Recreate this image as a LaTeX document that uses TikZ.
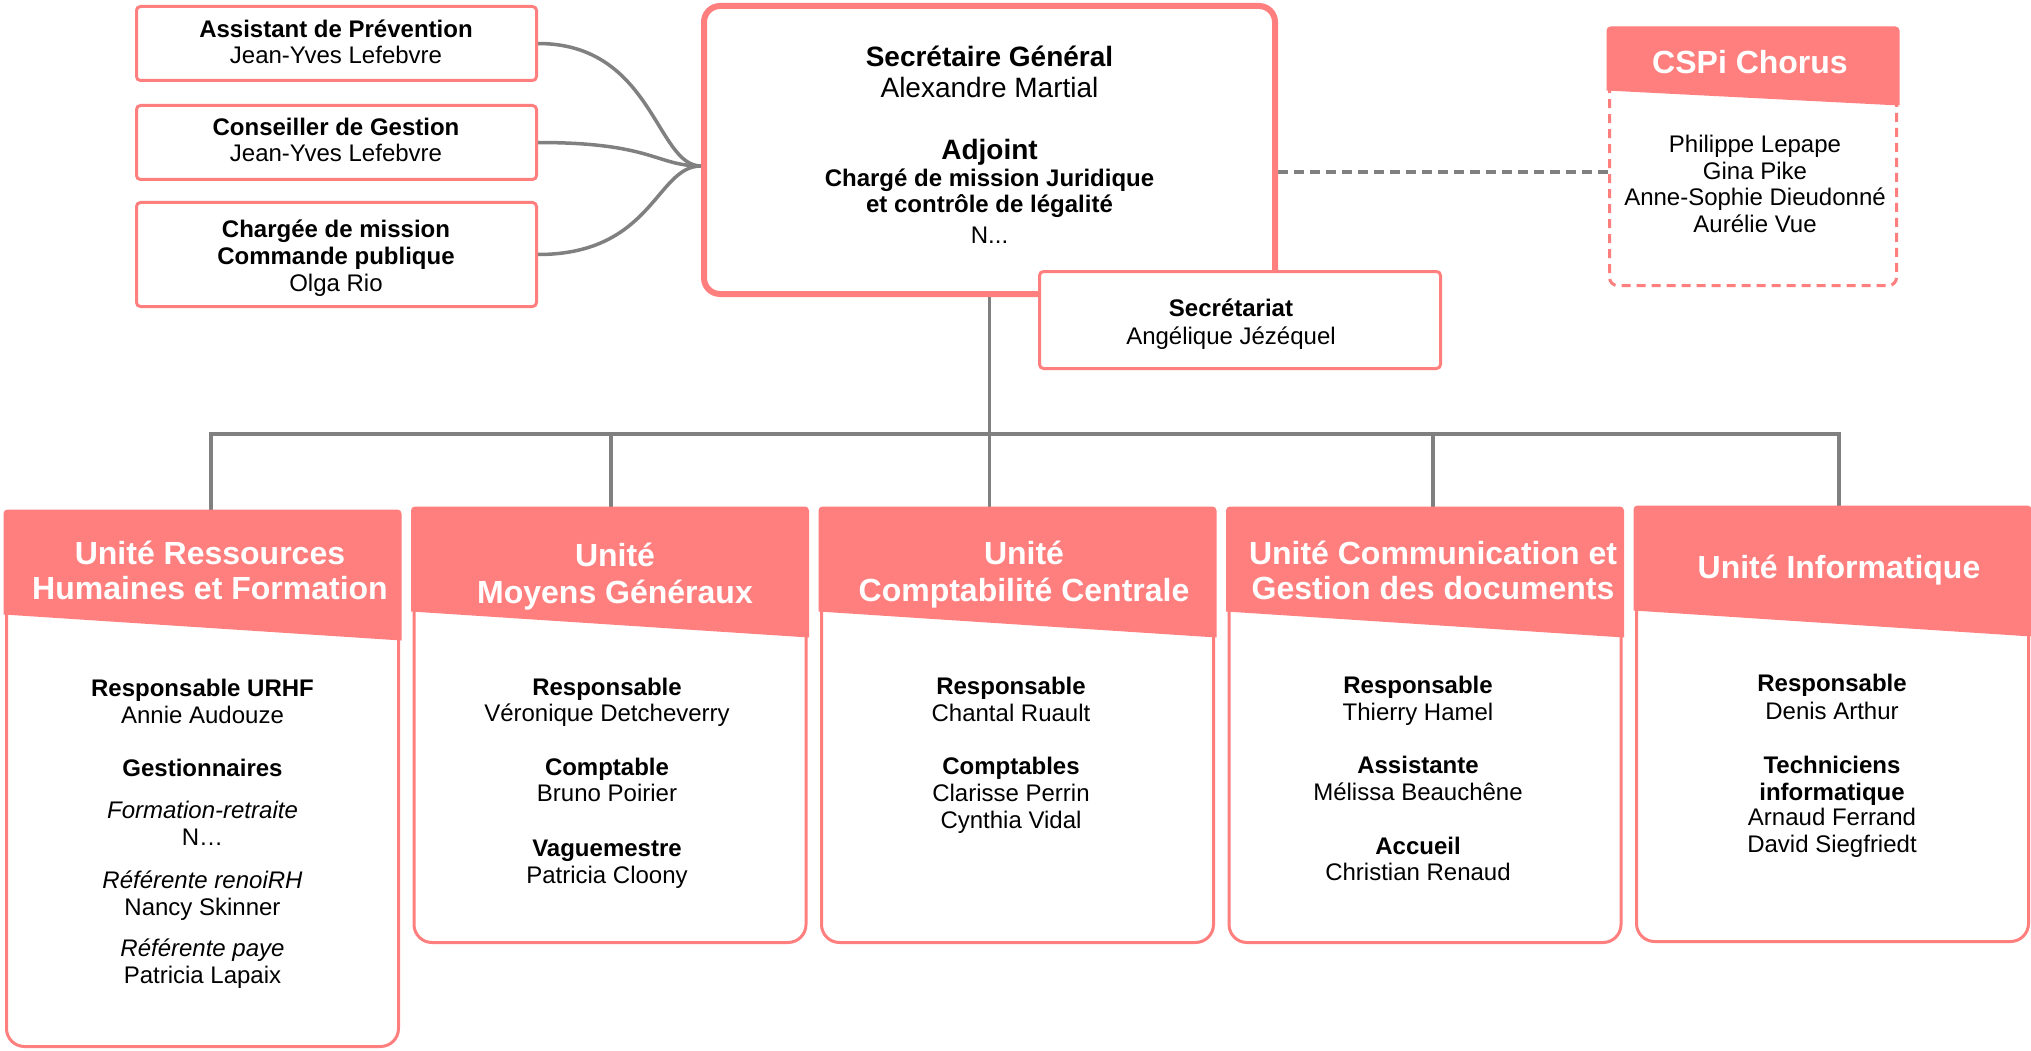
\documentclass[tikz,border=0pt]{standalone}
\usepackage{fontspec}
\setmainfont{Liberation Sans}
\definecolor{salmon}{RGB}{255,127,127}
\definecolor{linegrey}{RGB}{128,128,128}
\pgfdeclarelayer{bg}
\pgfdeclarelayer{conns}
\pgfsetlayers{bg,conns,main}
\tikzset{
  conn/.style={draw=linegrey, line width=3.5pt},
  dconn/.style={draw=linegrey, line width=3.5pt, dash pattern=on 10pt off 6pt},
  smallbox/.style={rectangle, draw=salmon, line width=3pt, rounded corners=4pt, fill=white, inner sep=0pt, minimum width=400pt},
  bigbox/.style={rectangle, draw=salmon, line width=6pt, rounded corners=16pt, fill=white, inner sep=0pt},
  dashbox/.style={rectangle, draw=salmon, line width=3pt, rounded corners=8pt, dash pattern=on 9pt off 6pt, fill=white, inner sep=0pt},
  unitbox/.style={rectangle, draw=salmon, line width=3pt, rounded corners=18pt, fill=white, inner sep=0pt, minimum width=392pt},
  hdr/.style={fill=salmon},
  tr/.style={anchor=base, inner sep=0pt, text=black, font=\fontsize{24}{27}\selectfont},
  tb/.style={tr, font=\fontsize{24}{27}\selectfont\bfseries},
  ti/.style={tr, font=\fontsize{24}{27}\selectfont\itshape},
  tl/.style={tr, font=\fontsize{28}{31}\selectfont},
  tlb/.style={tr, font=\fontsize{28}{31}\selectfont\bfseries},
  th/.style={anchor=base, inner sep=0pt, text=white, font=\fontsize{32}{36}\selectfont\bfseries},
}
\newcommand\unithdr[1]{%
  \fill[hdr] ([shift={(-1.5,50)}]#1.north west) [rounded corners=4pt] -- ([shift={(-1.5,-1.5)}]#1.north west)
    -- ([shift={(1.5,-1.5)}]#1.north east) -- ([shift={(1.5,50)}]#1.north east) [sharp corners]
    -- ([shift={(1.5,129.5)}]#1.north east) -- ([shift={(-1.5,103.5)}]#1.north west) -- cycle;}
\begin{document}
\begin{tikzpicture}[x=1pt, y=-1pt]
\useasboundingbox (0,0) rectangle (2031,1051);
\begin{pgfonlayer}{bg}
  \fill[white] (0,0) rectangle (2031,1051);
\end{pgfonlayer}

% top-left boxes
\node[smallbox, minimum height=74pt] (ap) at (336.5,43.5) {};
\node[smallbox, minimum height=74pt] (cg) at (336.5,142.5) {};
\node[smallbox, minimum height=104pt] (cm) at (336.5,254.5) {};
\node[tb] (apt1) at (336,38) {Assistant de Prévention};
\node[tr] (apt2) at (336,64) {Jean-Yves Lefebvre};
\node[tb] (cgt1) at (336,136) {Conseiller de Gestion};
\node[tr] (cgt2) at (336,162) {Jean-Yves Lefebvre};
\node[tb] (cmt1) at (336,237) {Chargée de mission};
\node[tb] (cmt2) at (336,264) {Commande publique};
\node[tr] (cmt3) at (336,291) {Olga Rio};

% central box
\node[bigbox, minimum width=571pt, minimum height=288pt] (sg) at (989.5,150) {};
\node[tlb] (sgt1) at (989.5,67) {Secrétaire Général};
\node[tl] (sgt2) at (989.5,98) {Alexandre Martial};
\node[tlb] (sgt3) at (989.5,160) {Adjoint};
\node[tb] (sgt4) at (989.5,187) {Chargé de mission Juridique};
\node[tb] (sgt5) at (989.5,213) {et contrôle de légalité};
\node[tr] (sgt6) at (989.5,243) {N...};

% secretariat
\node[smallbox, minimum width=401pt, minimum height=97pt] (sec) at (1240,320) {};
\node[tb] (sect1) at (1231,316) {Secrétariat};
\node[tr] (sect2) at (1231,344) {Angélique Jézéquel};

% CSPi Chorus
\node[dashbox, minimum width=287pt, minimum height=256pt] (cspi) at (1753,157.5) {};
\fill[hdr] ([shift={(-1.5,40)}]cspi.north west) [rounded corners=4pt] -- ([shift={(-1.5,-1.5)}]cspi.north west)
  -- ([shift={(1.5,-1.5)}]cspi.north east) -- ([shift={(1.5,40)}]cspi.north east) [sharp corners]
  -- ([shift={(1.5,77.5)}]cspi.north east) -- ([shift={(-1.5,62.5)}]cspi.north west) -- cycle;
\node[th] (cspit) at (1750,74) {CSPi Chorus};
\node[tr] (cspi1) at (1755,153) {Philippe Lepape};
\node[tr] (cspi2) at (1755,180) {Gina Pike};
\node[tr] (cspi3) at (1755,206) {Anne-Sophie Dieudonné};
\node[tr] (cspi4) at (1755,233) {Aurélie Vue};

% units
\node[unitbox, minimum height=534pt] (u1) at (202.5,779.5) {};
\node[unitbox, minimum height=433pt] (u2) at (610,726) {};
\node[unitbox, minimum height=433pt] (u3) at (1017.5,726) {};
\node[unitbox, minimum height=433pt] (u4) at (1425,726) {};
\node[unitbox, minimum height=433pt] (u5) at (1832.5,725) {};
\unithdr{u1}\unithdr{u2}\unithdr{u3}\unithdr{u4}\unithdr{u5}

\node[th] (u1h1) at (210,564) {Unité Ressources};
\node[th] (u1h2) at (210,599) {Humaines et Formation};
\node[th] (u2h1) at (615,566) {Unité};
\node[th] (u2h2) at (615,603) {Moyens Généraux};
\node[th] (u3h1) at (1024,564) {Unité};
\node[th] (u3h2) at (1024,601) {Comptabilité Centrale};
\node[th] (u4h1) at (1433,564) {Unité Communication et};
\node[th] (u4h2) at (1433,599) {Gestion des documents};
\node[th] (u5h1) at (1839,578) {Unité Informatique};

\node[tb] (u1a) at (202.5,696) {Responsable URHF};
\node[tr] (u1b) at (202.5,723) {Annie Audouze};
\node[tb] (u1c) at (202.5,776) {Gestionnaires};
\node[ti] (u1d) at (202.5,818) {Formation-retraite};
\node[tr] (u1e) at (202.5,845) {N…};
\node[ti] (u1f) at (202.5,888) {Référente renoiRH};
\node[tr] (u1g) at (202.5,915) {Nancy Skinner};
\node[ti] (u1h) at (202.5,956) {Référente paye};
\node[tr] (u1i) at (202.5,983) {Patricia Lapaix};

\node[tb] (u2a) at (607,695) {Responsable};
\node[tr] (u2b) at (607,721) {Véronique Detcheverry};
\node[tb] (u2c) at (607,775) {Comptable};
\node[tr] (u2d) at (607,801) {Bruno Poirier};
\node[tb] (u2e) at (607,856) {Vaguemestre};
\node[tr] (u2f) at (607,883) {Patricia Cloony};

\node[tb] (u3a) at (1011,694) {Responsable};
\node[tr] (u3b) at (1011,721) {Chantal Ruault};
\node[tb] (u3c) at (1011,774) {Comptables};
\node[tr] (u3d) at (1011,801) {Clarisse Perrin};
\node[tr] (u3e) at (1011,828) {Cynthia Vidal};

\node[tb] (u4a) at (1418,693) {Responsable};
\node[tr] (u4b) at (1418,720) {Thierry Hamel};
\node[tb] (u4c) at (1418,773) {Assistante};
\node[tr] (u4d) at (1418,800) {Mélissa Beauchêne};
\node[tb] (u4e) at (1418,854) {Accueil};
\node[tr] (u4f) at (1418,880) {Christian Renaud};

\node[tb] (u5a) at (1832,691) {Responsable};
\node[tr] (u5b) at (1832,719) {Denis Arthur};
\node[tb] (u5c) at (1832,773) {Techniciens};
\node[tb] (u5d) at (1832,800) {informatique};
\node[tr] (u5e) at (1832,825) {Arnaud Ferrand};
\node[tr] (u5f) at (1832,852) {David Siegfriedt};

% connectors
\begin{pgfonlayer}{conns}
  \draw[conn] (ap.east) .. controls +(115,0) and +(-45,0) .. ([yshift=-16pt]sg.west);
  \draw[conn] (cg.east) .. controls +(115,0) and +(-45,0) .. ([yshift=-16pt]sg.west);
  \draw[conn] (cm.east) .. controls +(115,0) and +(-45,0) .. ([yshift=-16pt]sg.west);
  \draw[dconn] ([yshift=-22pt]sg.east) -- ([yshift=-22pt]sg.east -| cspi.west);
  \coordinate (bus) at (989.5,434);
  \draw[conn] (sg.south) -- (sg.south |- u3.north);
  \draw[conn] ([xshift=8.5pt]u1.north) |- (bus) -| ([xshift=6.5pt]u5.north);
  \draw[conn] ([xshift=1pt]u2.north) -- ([xshift=1pt]u2.north |- bus);
  \draw[conn] ([xshift=8pt]u4.north) -- ([xshift=8pt]u4.north |- bus);
\end{pgfonlayer}
\end{tikzpicture}
\end{document}
